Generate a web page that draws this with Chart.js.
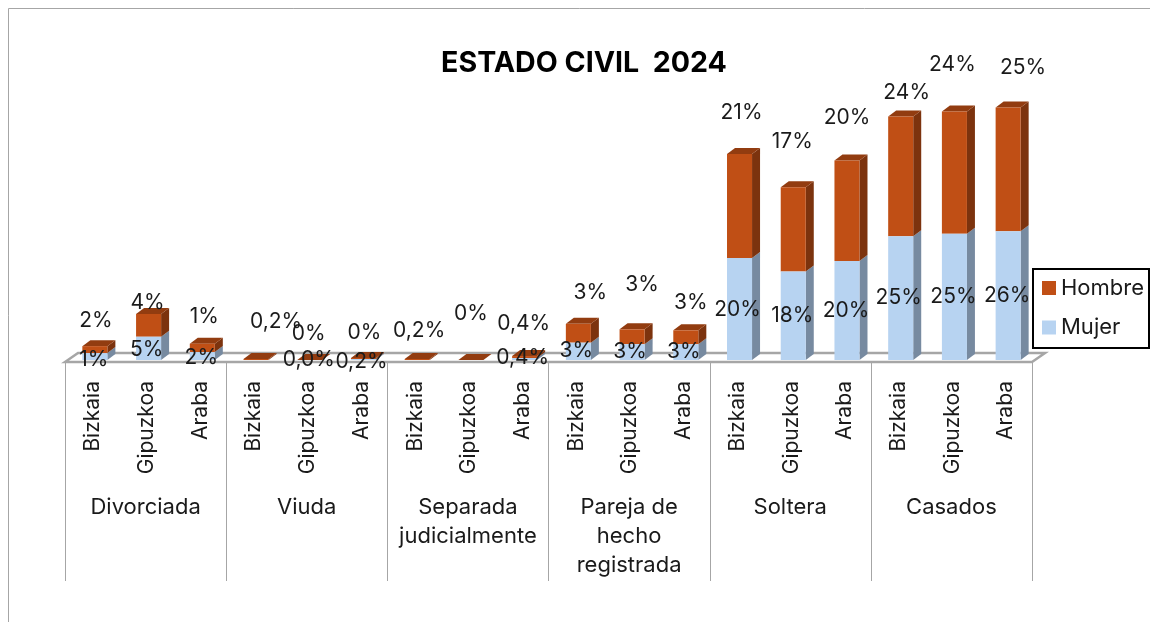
<!DOCTYPE html>
<html>
<head>
<meta charset="utf-8">
<title>Estado civil 2024</title>
<script src="https://cdn.jsdelivr.net/npm/chart.js@4/dist/chart.umd.min.js"></script>
<style>
    html, body { margin: 0; padding: 0; background: #fff; }
    #wrap { width: 1150px; height: 626px; }
</style>
</head>
<body>
<div id="wrap"><canvas id="estadoChart"></canvas></div>
<script>
const chartTitle = 'ESTADO CIVIL  2024';
const provinces = ['Bizkaia', 'Gipuzkoa', 'Araba', 'Bizkaia', 'Gipuzkoa', 'Araba', 'Bizkaia', 'Gipuzkoa', 'Araba',
    'Bizkaia', 'Gipuzkoa', 'Araba', 'Bizkaia', 'Gipuzkoa', 'Araba', 'Bizkaia', 'Gipuzkoa', 'Araba'];
const groups = [['Divorciada'], ['Viuda'], ['Separada', 'judicialmente'], ['Pareja de', 'hecho', 'registrada'], ['Soltera'], ['Casados']];

// values, in percent
const mujer = [1.4, 4.7, 1.6, 0, 0, 0.2, 0, 0, 0.4, 3.5, 3.2, 3.2, 20.6, 17.9, 20, 25, 25.5, 26];
const hombre = [1.4, 4.6, 1.7, 0.2, 0, 0.2, 0.2, 0, 0.4, 3.8, 3, 2.8, 21, 17, 20.3, 24.2, 24.7, 25];

// the printed labels are not consistently rounded, so they are kept as text
const mujerLabels = ['1%', '5%', '2%', '', '0,0%', '0,2%', '', '', '0,4%', '3%', '3%', '3%', '20%', '18%', '20%', '25%', '25%', '26%'];
const hombreLabels = ['2%', '4%', '1%', '0,2%', '0%', '0%', '0,2%', '0%', '0,4%', '3%', '3%', '3%', '21%', '17%', '20%', '24%', '24%', '25%'];

// hand placed data labels, offsets from the bar
const hombreShiftX = [1, -1, 2, 20, -1, 1, 2, 0, -1, 12, 10, 5, 2, -1, 0, 6, -2, 15];
const hombreRise = [25, 11, 27, 37, 26, 25, 28, 46, 32, 31, 45, 28, 41, 46, 43, 24, 47, 40];
const mujerShiftX = [-1, -2, -1, 0, -1, -2, 0, 0, -2, -2, -2, -2, -2, -1, -1, -2, -1, -1];
const mujerDrop = [3, 1, 2, 0, 0, 2, 0, 0, -1, -1, 0, 0, 1, 0, 0, 0, 0, 0];

const colors = {
    hombre: '#c04f15', hombreSide: '#7c330e', hombreTop: '#923c10',
    mujer: '#b7d3f1', mujerSide: '#778aa0',
    floor: '#a6a6a6', text: '#1a1a1a', frame: '#a6a6a6'
};
const depthX = 8, depthY = 6;
const fontName = 'Inter, sans-serif';

function drawSide(ctx, bar, fill) {
    var right = bar.x + bar.width / 2;
    ctx.fillStyle = fill;
    ctx.beginPath();
    ctx.moveTo(right, bar.y);
    ctx.lineTo(right + depthX, bar.y - depthY);
    ctx.lineTo(right + depthX, bar.base - depthY);
    ctx.lineTo(right, bar.base);
    ctx.closePath();
    ctx.fill();
}

function drawTop(ctx, bar, fill) {
    var left = bar.x - bar.width / 2;
    var right = bar.x + bar.width / 2;
    ctx.fillStyle = fill;
    ctx.beginPath();
    ctx.moveTo(left, bar.y);
    ctx.lineTo(left + depthX, bar.y - depthY);
    ctx.lineTo(right + depthX, bar.y - depthY);
    ctx.lineTo(right, bar.y);
    ctx.closePath();
    ctx.fill();
}

// frame, floor and the fake 3D faces go behind the bars
const behindBars = {
    id: 'behindBars',
    beforeDatasetsDraw(chart) {
        var ctx = chart.ctx;
        var x = chart.scales.x;
        var step = x.getPixelForValue(1) - x.getPixelForValue(0);
        var floorLeft = x.left - 3, floorRight = x.right - 3;
        var floorY = chart.chartArea.bottom + 2;

        ctx.save();
        ctx.strokeStyle = colors.frame;
        ctx.lineWidth = 1;
        ctx.beginPath();
        ctx.moveTo(8.5, 622);
        ctx.lineTo(8.5, 8.5);
        ctx.lineTo(1150, 8.5);
        ctx.stroke();

        ctx.strokeStyle = colors.floor;
        ctx.lineWidth = 2.5;
        ctx.lineJoin = 'miter';
        ctx.beginPath();
        ctx.moveTo(floorLeft, floorY);
        ctx.lineTo(floorLeft + 13, floorY - 9);
        ctx.lineTo(floorRight + 13, floorY - 9);
        ctx.lineTo(floorRight, floorY);
        ctx.closePath();
        ctx.stroke();

        ctx.lineWidth = 1;
        ctx.beginPath();
        for (var i = 0; i <= groups.length; i++) {
            var px = Math.round(floorLeft + i * 3 * step) + 0.5;
            ctx.moveTo(px, floorY);
            ctx.lineTo(px, 581);
        }
        ctx.stroke();

        chart.getDatasetMeta(1).data.forEach(function(bar) { drawSide(ctx, bar, colors.mujerSide); });
        chart.getDatasetMeta(0).data.forEach(function(bar) {
            drawSide(ctx, bar, colors.hombreSide);
            drawTop(ctx, bar, colors.hombreTop);
        });
        ctx.restore();
    }
};

// title, group labels, data labels and legend go on top
const overBars = {
    id: 'overBars',
    afterDraw(chart) {
        var ctx = chart.ctx;
        var x = chart.scales.x;
        var step = x.getPixelForValue(1) - x.getPixelForValue(0);
        ctx.save();
        ctx.textAlign = 'center';
        ctx.textBaseline = 'middle';

        ctx.fillStyle = '#000';
        ctx.font = 'bold 28.6px ' + fontName;
        ctx.fillText(chartTitle, 584, 63);

        ctx.fillStyle = colors.text;
        ctx.font = '22px ' + fontName;
        groups.forEach(function(lines, g) {
            var cx = x.left - 3 + (g * 3 + 1.5) * step;
            lines.forEach(function(line, n) {
                ctx.fillText(line, cx, 507 + n * 29);
            });
        });

        ctx.font = '21px ' + fontName;
        chart.getDatasetMeta(1).data.forEach(function(bar, i) {
            ctx.fillText(mujerLabels[i], bar.x + mujerShiftX[i], (bar.y + bar.base) / 2 + mujerDrop[i]);
        });
        chart.getDatasetMeta(0).data.forEach(function(bar, i) {
            ctx.fillText(hombreLabels[i], bar.x + hombreShiftX[i], bar.y - hombreRise[i]);
        });

        // legend box
        ctx.strokeStyle = '#000';
        ctx.lineWidth = 2;
        ctx.fillStyle = '#fff';
        ctx.fillRect(1033, 269, 116, 79);
        ctx.strokeRect(1033, 269, 116, 79);
        ctx.textAlign = 'left';
        ctx.font = '22px ' + fontName;
        chart.data.datasets.forEach(function(ds, d) {
            var rowY = 288 + d * 39.5;
            ctx.fillStyle = ds.backgroundColor;
            ctx.fillRect(1042, rowY - 7, 14, 14);
            ctx.fillStyle = colors.text;
            ctx.fillText(ds.label, 1061, rowY);
        });
        ctx.restore();
    }
};

new Chart(document.getElementById('estadoChart'), {
    type: 'bar',
    data: {
        labels: provinces,
        datasets: [
            { label: 'Hombre', data: hombre, backgroundColor: colors.hombre, stack: 's', order: 1 },
            { label: 'Mujer', data: mujer, backgroundColor: colors.mujer, stack: 's', order: 0 }
        ]
    },
    options: {
        responsive: true,
        maintainAspectRatio: false,
        animation: false,
        datasets: { bar: { categoryPercentage: 1, barPercentage: 0.466 } },
        layout: { padding: { left: 68, right: 115, top: 63, bottom: 0 } },
        plugins: { legend: { display: false }, title: { display: false }, tooltip: { enabled: false } },
        scales: {
            x: {
                stacked: true,
                grid: { display: false },
                border: { display: false },
                afterFit(scale) { scale.height = 266; },
                ticks: {
                    autoSkip: false,
                    minRotation: 90,
                    maxRotation: 90,
                    padding: 13,
                    labelOffset: -2,
                    color: colors.text,
                    font: { family: fontName, size: 21 }
                }
            },
            y: { stacked: true, display: false, min: 0, max: 60 }
        }
    },
    plugins: [behindBars, overBars]
});
</script>
</body>
</html>
